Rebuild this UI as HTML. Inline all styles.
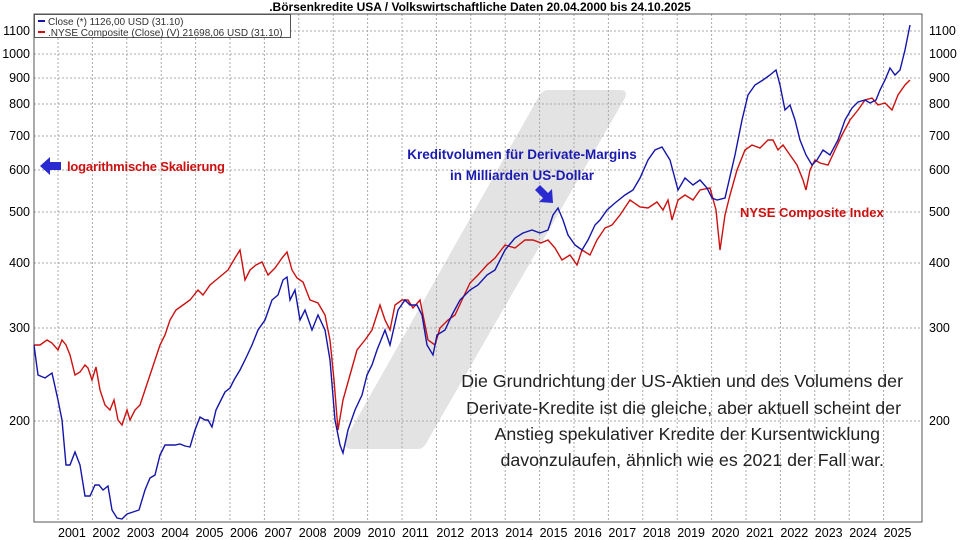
<!DOCTYPE html>
<html><head><meta charset="utf-8"><style>
body{margin:0;background:#fff}
svg{display:block;font-family:"Liberation Sans",Arial,sans-serif}
</style></head><body>
<svg width="960" height="540" viewBox="0 0 960 540">
<text x="480" y="11" text-anchor="middle" font-size="12" font-weight="bold" fill="#000">.Börsenkredite USA / Volkswirtschaftliche Daten 20.04.2000 bis 24.10.2025</text>
<path d="M352,449 L418,449 Q424,449 428,440 L625,98 Q628,90 620,90 L548,90 Q542,90 538,98 L345,440 Q342,449 352,449 Z" fill="#e3e3e3"/>
<g stroke="#aaa" stroke-dasharray="2,2" stroke-width="1">
<line x1="34" x2="922" y1="31" y2="31"/><line x1="34" x2="922" y1="54" y2="54"/><line x1="34" x2="922" y1="78" y2="78"/><line x1="34" x2="922" y1="104" y2="104"/><line x1="34" x2="922" y1="136" y2="136"/><line x1="34" x2="922" y1="170" y2="170"/><line x1="34" x2="922" y1="212" y2="212"/><line x1="34" x2="922" y1="263" y2="263"/><line x1="34" x2="922" y1="328" y2="328"/><line x1="34" x2="922" y1="421" y2="421"/>
</g>
<g stroke="#aaa" stroke-dasharray="2,2">
<line x1="58" x2="58" y1="14" y2="522"/><line x1="92.4" x2="92.4" y1="14" y2="522"/><line x1="126.8" x2="126.8" y1="14" y2="522"/><line x1="161.2" x2="161.2" y1="14" y2="522"/><line x1="195.6" x2="195.6" y1="14" y2="522"/><line x1="230" x2="230" y1="14" y2="522"/><line x1="264.4" x2="264.4" y1="14" y2="522"/><line x1="298.8" x2="298.8" y1="14" y2="522"/><line x1="333.2" x2="333.2" y1="14" y2="522"/><line x1="367.6" x2="367.6" y1="14" y2="522"/><line x1="402" x2="402" y1="14" y2="522"/><line x1="436.4" x2="436.4" y1="14" y2="522"/><line x1="470.8" x2="470.8" y1="14" y2="522"/><line x1="505.2" x2="505.2" y1="14" y2="522"/><line x1="539.6" x2="539.6" y1="14" y2="522"/><line x1="574" x2="574" y1="14" y2="522"/><line x1="608.4" x2="608.4" y1="14" y2="522"/><line x1="642.8" x2="642.8" y1="14" y2="522"/><line x1="677.2" x2="677.2" y1="14" y2="522"/><line x1="711.6" x2="711.6" y1="14" y2="522"/><line x1="746" x2="746" y1="14" y2="522"/><line x1="780.4" x2="780.4" y1="14" y2="522"/><line x1="814.8" x2="814.8" y1="14" y2="522"/><line x1="849.2" x2="849.2" y1="14" y2="522"/><line x1="883.6" x2="883.6" y1="14" y2="522"/>
</g>
<rect x="34" y="14" width="888" height="508" fill="none" stroke="#555"/>
<polyline fill="none" stroke="#cc1111" stroke-width="1.4" points="34,345 40,345 47,340 52,343 58,350 62,340 66,345 70,355 75,375 80,372 85,365 88,368 92,380 96,367 100,390 105,405 110,410 114,400 118,420 122,425 127,410 130,420 135,410 140,405 145,390 150,375 155,360 160,345 165,335 170,320 176,310 183,305 190,300 198,290 203,295 210,285 216,280 222,275 228,270 235,258 240,250 245,280 250,270 256,265 262,262 268,275 275,268 282,258 287,252 292,270 297,278 303,282 310,300 318,303 325,315 330,340 334,380 338,430 343,400 350,375 357,350 365,340 372,330 380,305 385,320 390,330 395,305 402,300 408,300 413,308 420,300 428,340 435,345 440,328 448,320 455,315 462,300 470,283 478,275 487,265 495,258 505,245 515,248 525,240 533,240 541,243 548,240 555,248 562,260 570,255 577,265 582,250 590,255 597,240 605,228 612,225 620,215 630,200 640,207 648,208 657,202 663,210 668,200 672,220 678,200 685,195 693,200 700,190 710,188 716,210 720,250 725,215 730,195 737,170 745,150 752,145 760,148 768,140 773,140 778,150 783,145 790,155 797,165 803,180 806,190 810,170 815,160 820,163 828,165 835,150 842,135 850,120 858,110 865,100 872,98 878,105 885,103 892,110 898,95 905,85 910,80"/>
<polyline fill="none" stroke="#1515aa" stroke-width="1.4" points="34,345 38,375 45,378 52,373 58,400 62,420 66,465 70,465 75,452 80,465 85,496 90,496 95,485 99,485 103,490 108,486 112,510 117,518 122,519 127,514 133,512 139,510 145,490 150,478 155,475 160,455 165,445 169,445 175,445 180,444 185,446 190,447 195,430 200,417 205,420 208,420 212,427 216,410 221,400 225,392 230,388 234,380 240,370 245,360 252,345 258,330 265,320 272,300 278,295 283,280 287,277 290,300 295,290 300,320 305,310 312,330 318,315 325,330 330,360 335,420 340,445 343,453 348,430 355,410 362,395 367,375 372,365 377,350 385,330 390,345 398,310 405,300 410,305 417,305 422,315 427,345 433,355 437,335 445,330 452,315 460,300 470,290 478,285 487,275 495,270 505,250 515,238 523,233 532,230 540,233 548,230 553,215 558,208 563,220 568,235 575,245 582,250 588,240 595,225 600,220 607,210 615,203 625,195 633,190 640,178 648,160 655,150 662,147 670,160 678,190 685,178 693,185 700,180 707,188 712,198 717,200 725,198 735,155 742,120 748,95 755,85 763,80 770,75 776,70 780,85 785,110 790,105 795,120 800,140 806,155 812,165 817,160 823,150 830,155 838,140 845,120 852,108 858,102 865,100 870,103 876,100 880,90 885,80 890,68 895,75 900,70 905,50 910,25"/>
<rect x="34.5" y="14.5" width="256" height="23" fill="#fff" stroke="#555"/>
<line x1="38" x2="45" y1="21" y2="21" stroke="#1515aa" stroke-width="2"/>
<line x1="38" x2="45" y1="32" y2="32" stroke="#cc1111" stroke-width="2"/>
<g font-size="10" fill="#333"><text x="48" y="25">Close (*) 1126,00 USD (31.10)</text><text x="48" y="36">.NYSE Composite (Close) (V) 21698,06 USD (31.10)</text></g>
<g font-size="12.5" fill="#000" text-anchor="end">
<text x="30" y="35">1100</text><text x="30" y="58">1000</text><text x="30" y="82">900</text><text x="30" y="108">800</text><text x="30" y="140">700</text><text x="30" y="174">600</text><text x="30" y="216">500</text><text x="30" y="267">400</text><text x="30" y="332">300</text><text x="30" y="425">200</text></g>
<g font-size="12.5" fill="#000">
<text x="929" y="35">1100</text><text x="929" y="58">1000</text><text x="929" y="82">900</text><text x="929" y="108">800</text><text x="929" y="140">700</text><text x="929" y="174">600</text><text x="929" y="216">500</text><text x="929" y="267">400</text><text x="929" y="332">300</text><text x="929" y="425">200</text></g>
<g font-size="12.5" fill="#000">
<text x="58" y="537">2001</text><text x="92.4" y="537">2002</text><text x="126.8" y="537">2003</text><text x="161.2" y="537">2004</text><text x="195.6" y="537">2005</text><text x="230" y="537">2006</text><text x="264.4" y="537">2007</text><text x="298.8" y="537">2008</text><text x="333.2" y="537">2009</text><text x="367.6" y="537">2010</text><text x="402" y="537">2011</text><text x="436.4" y="537">2012</text><text x="470.8" y="537">2013</text><text x="505.2" y="537">2014</text><text x="539.6" y="537">2015</text><text x="574" y="537">2016</text><text x="608.4" y="537">2017</text><text x="642.8" y="537">2018</text><text x="677.2" y="537">2019</text><text x="711.6" y="537">2020</text><text x="746" y="537">2021</text><text x="780.4" y="537">2022</text><text x="814.8" y="537">2023</text><text x="849.2" y="537">2024</text><text x="883.6" y="537">2025</text></g>
<path d="M40,166 L50,157 L50,162 L61,162 L61,170 L50,170 L50,175 Z" fill="#2a2ad0"/>
<text x="67" y="171" font-size="13" font-weight="bold" fill="#cc1111" textLength="158">logarithmische Skalierung</text>
<g font-size="13.5" font-weight="bold" fill="#1a1ab0" text-anchor="middle"><text x="522" y="159">Kreditvolumen für Derivate-Margins</text><text x="522" y="180">in Milliarden US-Dollar</text></g>
<path d="M553,203 L552,189 L548,193 L540,185 L535,190 L543,198 L539,202 Z" fill="#2a2ad0"/>
<text x="740" y="217" font-size="13" font-weight="bold" fill="#cc1111">NYSE Composite Index</text>
<g font-size="17.8" fill="#222" text-anchor="end"><text x="903" y="387">Die Grundrichtung der US-Aktien und des Volumens der</text><text x="901" y="414">Derivate-Kredite ist die gleiche, aber aktuell scheint der</text><text x="880" y="440">Anstieg spekulativer Kredite der Kursentwicklung</text><text x="884" y="466">davonzulaufen, ähnlich wie es 2021 der Fall war.</text></g>
</svg>
</body></html>
